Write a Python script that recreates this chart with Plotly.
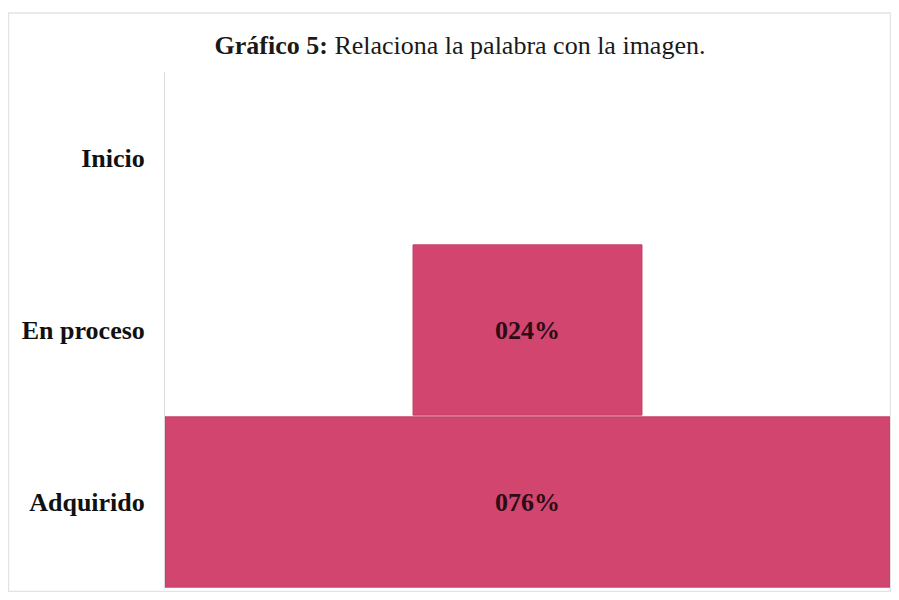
import plotly.graph_objects as go

categories = ["Inicio", "En proceso", "Adquirido"]
values = [0, 24, 76]
labels = [f"{v:03d}%" if v else "" for v in values]

# page body adds an 8px margin all round; figure is sized to compensate
OFF = 8
W, H = 899 - 2 * OFF, 600 - 2 * OFF
ml, mr, mt, mb = 165 - OFF, 1, 72 - OFF, 4
pw, ph = W - ml - mr, H - mt - mb

fig = go.Figure(go.Funnel(
    y=categories,
    x=values,
    text=labels,
    textinfo="text",
    textposition="inside",
    insidetextanchor="middle",
    textfont=dict(family="Liberation Serif", size=26, color="#2b0c17", weight="bold"),
    marker=dict(color="#D2456E", line=dict(color="#c23f66", width=[0 if v == 0 else 1 for v in values])),
    connector=dict(visible=False),
    hoverinfo="y+x",
))

fig.update_layout(
    width=W, height=H,
    margin=dict(l=ml, r=mr, t=mt, b=mb),
    paper_bgcolor="white",
    plot_bgcolor="white",
    showlegend=False,
    funnelgap=0.01,
    title=dict(
        text="<b>Gráfico 5:</b> Relaciona la palabra con la imagen.",
        x=(460 - OFF) / W, xanchor="center",
        y=1 - (45 - OFF) / H, yanchor="middle",
        font=dict(family="Liberation Serif", size=26, color="#1a1a1a"),
    ),
    xaxis=dict(visible=False, range=[-38, 38], fixedrange=True),
    yaxis=dict(
        showline=True, linecolor="#d9d9d9", linewidth=1,
        showgrid=False, zeroline=False,
        ticks="", ticklabelstandoff=14,
        tickfont=dict(family="Liberation Serif", size=26, color="#111111", weight="bold"),
    ),
    shapes=[dict(
        type="rect", xref="paper", yref="paper",
        x0=(0.5 - ml) / pw, x1=(W - 0.5 - ml) / pw,
        y0=-(mb - 0.5) / ph, y1=(H - mb - (13 - OFF)) / ph,
        line=dict(color="#e3e3e3", width=1.5), fillcolor="rgba(0,0,0,0)",
        layer="below",
    )],
)

fig.write_html("out.html")
